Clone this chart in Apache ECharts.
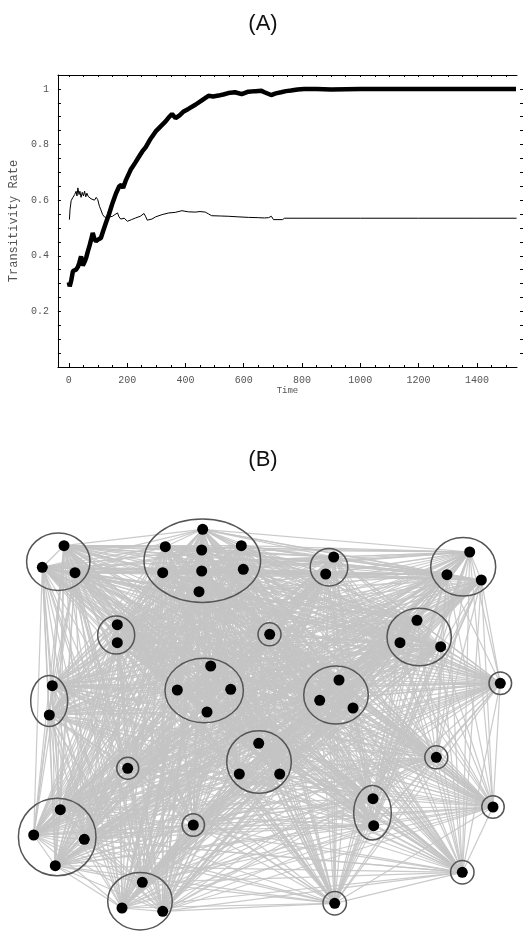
<!DOCTYPE html>
<html>
<head>
<meta charset="utf-8">
<script src="https://cdn.jsdelivr.net/npm/echarts@6/dist/echarts.min.js"></script>
<style>
  html, body { margin: 0; padding: 0; background: #fff; }
  #main { width: 526px; height: 931px; }
</style>
</head>
<body>
<div id="main"></div>
<script>
// (A) transitivity rate over time
var thickTime = [0, 3, 8, 14, 19, 25, 31, 36, 42, 48, 55, 60, 65, 72, 78, 82, 88, 93, 100, 110, 118, 127, 138, 150, 162, 173, 180, 186, 195, 212, 228, 241, 252, 264, 280, 298, 315, 332, 345, 354, 360, 366, 380, 394, 410, 434, 455, 479, 495, 513, 530, 547, 570, 593, 616, 640, 661, 671, 694, 710, 728, 745, 762, 785, 807, 850, 900, 1000, 1100, 1200, 1300, 1400, 1500, 1534];
var thickRate = [0.305, 0.29, 0.31, 0.345, 0.34, 0.35, 0.36, 0.375, 0.398, 0.365, 0.38, 0.395, 0.415, 0.44, 0.465, 0.482, 0.46, 0.452, 0.458, 0.464, 0.49, 0.518, 0.55, 0.59, 0.625, 0.65, 0.655, 0.644, 0.67, 0.709, 0.735, 0.757, 0.775, 0.791, 0.82, 0.847, 0.865, 0.883, 0.9, 0.91, 0.905, 0.895, 0.905, 0.919, 0.928, 0.943, 0.958, 0.975, 0.973, 0.976, 0.98, 0.985, 0.988, 0.981, 0.99, 0.992, 0.993, 0.988, 0.978, 0.984, 0.988, 0.992, 0.994, 0.998, 1.0, 1.0, 0.998, 1.0, 1.0, 1.0, 1.0, 1.0, 1.0, 1.0];
var thinTime = [2, 4, 8, 14, 20, 25, 28, 31, 35, 38, 42, 46, 50, 54, 58, 62, 66, 70, 76, 82, 88, 94, 99, 105, 110, 116, 122, 127, 135, 142, 150, 158, 167, 172, 178, 190, 201, 215, 229, 245, 258, 264, 269, 285, 298, 320, 343, 365, 388, 410, 434, 450, 468, 480, 490, 520, 547, 580, 616, 650, 671, 685, 695, 702, 733, 740, 800, 1000, 1200, 1400, 1536];
var thinRate = [0.53, 0.565, 0.598, 0.61, 0.62, 0.632, 0.615, 0.644, 0.62, 0.632, 0.61, 0.628, 0.615, 0.632, 0.612, 0.625, 0.614, 0.618, 0.605, 0.612, 0.6, 0.61, 0.602, 0.578, 0.565, 0.548, 0.54, 0.536, 0.534, 0.54, 0.542, 0.548, 0.554, 0.54, 0.532, 0.535, 0.524, 0.53, 0.536, 0.542, 0.552, 0.54, 0.528, 0.532, 0.54, 0.548, 0.554, 0.556, 0.562, 0.558, 0.557, 0.559, 0.557, 0.55, 0.544, 0.543, 0.542, 0.54, 0.538, 0.537, 0.536, 0.537, 0.542, 0.53, 0.53, 0.535, 0.535, 0.535, 0.535, 0.535, 0.535];
var timeLabels = [0, 200, 400, 600, 800, 1000, 1200, 1400];
var rateLabels = [0.2, 0.4, 0.6, 0.8, 1];

// (B) network layout (layout units, y down)
var nodeX = [64, 42.3, 75, 202.7, 165.3, 201.7, 241.3, 162.7, 201.7, 243.3, 199, 117.3, 117.3, 52.3, 49.3, 210.7, 177.3, 230.7, 207, 333.7, 325.7, 469.7, 447, 481.3, 417, 400, 440.7, 269.7, 500.3, 339, 319.7, 353, 258.7, 239.3, 279.7, 127.7, 60.3, 33.7, 84.3, 55.3, 193.3, 142.3, 122, 162.7, 436.3, 373, 373.7, 493, 462.3, 334.7];
var nodeY = [45.7, 67.3, 72.7, 29.3, 46.7, 50, 45.7, 72.7, 71, 69.3, 91.7, 124.7, 142.7, 185.7, 215, 166, 190, 189.3, 212, 57, 74, 52, 74.7, 80, 120.3, 142.7, 146.7, 134.3, 183.3, 180, 200.3, 208, 243.3, 274, 274, 268.3, 309.7, 335, 339.3, 365.7, 325, 382.3, 408, 411.3, 257.3, 298.7, 325.7, 307, 372.3, 403.3];
var groupX = [58.3, 202.3, 116.2, 49.2, 204.2, 329, 463.2, 419.2, 269.5, 500.3, 336, 259, 127.7, 57.2, 193.3, 140, 436.3, 372.5, 493, 462.3, 334.7];
var groupY = [61.7, 60.7, 135, 201, 190.5, 67.3, 66.8, 137, 134.3, 183.3, 195, 262, 268.3, 337, 325, 401.2, 257.3, 312.8, 307, 372.3, 403.3];
var groupRx = [31.7, 58.3, 18.5, 18.5, 39.2, 18.8, 32.5, 32.2, 11.5, 11.3, 32.3, 32.3, 11, 38.8, 11.2, 32.3, 11.5, 18.8, 11.2, 11.7, 11.7];
var groupRy = [28.7, 41.7, 19, 25.5, 32.2, 18.8, 29.2, 28.8, 11.5, 11.3, 29, 31.3, 11, 38.7, 11.2, 28.8, 11.5, 27.2, 11.2, 11.7, 11.7];

var thickData = thickTime.map(function (t, i) { return [t, thickRate[i]]; });
var thinData = thinTime.map(function (t, i) { return [t, thinRate[i]]; });
var nodes = nodeX.map(function (x, i) { return [x, nodeY[i]]; });
var groups = groupX.map(function (x, i) { return [x, groupY[i], groupRx[i], groupRy[i]]; });

// the network looks fully connected: one edge per pair of nodes
var edges = [];
for (var i = 0; i < nodes.length; i++) {
  for (var j = i + 1; j < nodes.length; j++) {
    edges.push({ coords: [nodes[i], nodes[j]] });
  }
}

var minorTime = [];
for (var t = 0; t <= 1500; t += 50) minorTime.push(t);
var minorRate = [];
for (var k = 1; k <= 20; k++) minorRate.push(+(k * 0.05).toFixed(2));

var mono = 'Liberation Mono';
var labelStyle = { fontFamily: mono, fontSize: 10, color: '#555' };

function timeAxis(pos, ticks, len, withLabels) {
  return {
    type: 'value', gridIndex: 0, position: pos, min: -37.5, max: 1537.5,
    splitLine: { show: false },
    axisLine: { show: withLabels || pos === 'top', onZero: false, lineStyle: { color: '#000', width: 1 } },
    axisTick: { show: true, inside: true, length: len, customValues: ticks, lineStyle: { color: '#000', width: 1 } },
    axisLabel: withLabels ? Object.assign({
      customValues: timeLabels, margin: 8,
      formatter: function (v) { return String(v); }
    }, labelStyle) : { show: false },
    name: withLabels ? 'Time' : '',
    nameLocation: 'middle', nameGap: 18,
    nameTextStyle: { fontFamily: mono, fontSize: 9, color: '#555' }
  };
}

function rateAxis(pos, ticks, len, withLabels) {
  return {
    type: 'value', gridIndex: 0, position: pos, min: 0, max: 1.05,
    offset: pos === 'right' ? 6 : 0,
    splitLine: { show: false },
    axisLine: { show: withLabels, onZero: false, lineStyle: { color: '#000', width: 1 } },
    axisTick: { show: true, inside: true, length: len, customValues: ticks, lineStyle: { color: '#000', width: 1 } },
    axisLabel: withLabels ? Object.assign({
      customValues: rateLabels, margin: 9,
      formatter: function (v) { return v === 1 ? '1' : v.toFixed(1); }
    }, labelStyle) : { show: false },
    name: withLabels ? 'Transitivity Rate' : '',
    nameLocation: 'middle', nameGap: 32,
    nameTextStyle: { fontFamily: mono, fontSize: 12, color: '#555' }
  };
}

var chart = echarts.init(document.getElementById('main'));
chart.setOption({
  animation: false,
  backgroundColor: '#fff',
  title: [
    { text: '(A)', left: 'center', top: 8, textStyle: { fontFamily: 'Liberation Sans', fontSize: 22, fontWeight: 'normal', color: '#111' } },
    { text: '(B)', left: 'center', top: 444, textStyle: { fontFamily: 'Liberation Sans', fontSize: 22, fontWeight: 'normal', color: '#111' } }
  ],
  grid: [
    { left: 55, right: 9, top: 75, height: 292 },
    { left: 0, right: 0, top: 500, bottom: 0 }
  ],
  xAxis: [
    timeAxis('bottom', timeLabels, 4, true),
    timeAxis('bottom', minorTime, 2, false),
    timeAxis('top', minorTime, 2, false),
    { type: 'value', gridIndex: 1, min: 0, max: 526, show: false }
  ],
  yAxis: [
    rateAxis('left', minorRate, 3, true),
    rateAxis('right', minorRate, 3, false),
    { type: 'value', gridIndex: 1, min: 0, max: 431, inverse: true, show: false }
  ],
  series: [
    {
      type: 'line', xAxisIndex: 0, yAxisIndex: 0, data: thinData,
      showSymbol: false, lineStyle: { color: '#000', width: 1 }, z: 3
    },
    {
      type: 'line', xAxisIndex: 0, yAxisIndex: 0, data: thickData,
      showSymbol: false, lineStyle: { color: '#000', width: 4.5 }, z: 4
    },
    {
      type: 'lines', coordinateSystem: 'cartesian2d', xAxisIndex: 3, yAxisIndex: 2,
      data: edges, silent: true, z: 1,
      lineStyle: { color: '#c4c4c4', width: 1.2, opacity: 0.9, curveness: 0 }
    },
    {
      type: 'custom', coordinateSystem: 'cartesian2d', xAxisIndex: 3, yAxisIndex: 2,
      data: groups, silent: true, z: 2,
      renderItem: function (params, api) {
        var c = api.coord([api.value(0), api.value(1)]);
        var s = api.size([api.value(2), api.value(3)]);
        return {
          type: 'ellipse',
          shape: { cx: c[0], cy: c[1], rx: s[0], ry: s[1] },
          style: { fill: 'none', stroke: '#555', lineWidth: 1.5 }
        };
      }
    },
    {
      type: 'scatter', xAxisIndex: 3, yAxisIndex: 2, data: nodes,
      symbol: 'circle', symbolSize: 11, itemStyle: { color: '#000', opacity: 1 }, z: 3, silent: true
    }
  ]
});
</script>
</body>
</html>
